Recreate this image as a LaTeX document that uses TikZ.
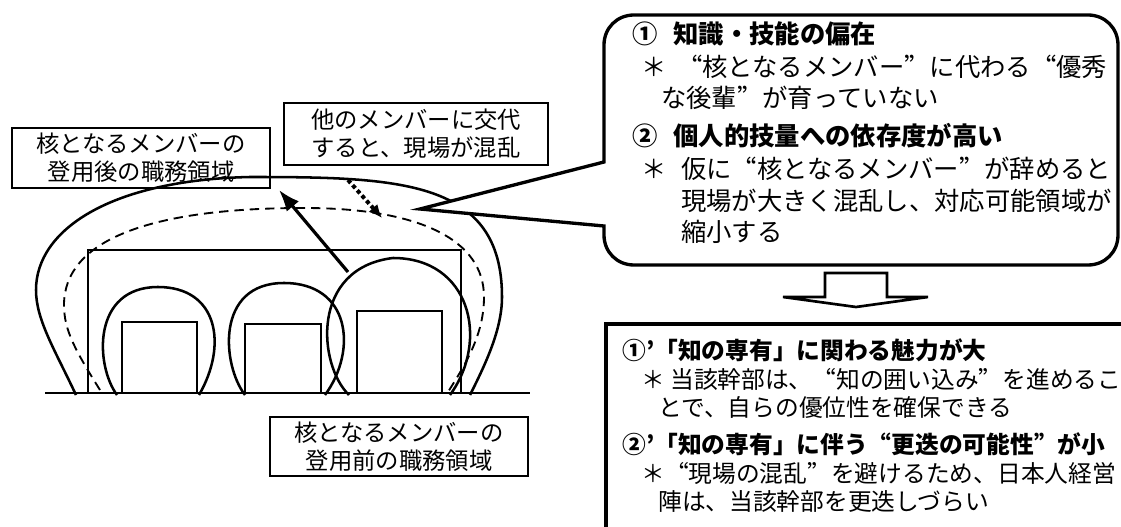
\documentclass[tikz,border=0pt]{standalone}
\usepackage{fontspec}
\newfontfamily\jp{Noto Sans CJK JP}
\newcommand\jqo{{\addfontfeature{CharacterWidth=Full}“}}
\newcommand\jqc{{\addfontfeature{CharacterWidth=Full}”}}
\usetikzlibrary{arrows.meta}
\begin{document}
\begin{tikzpicture}[x=0.75pt,y=-0.75pt,
  curve/.style={line width=1.9pt, line join=round},
  fine/.style={line width=1.3pt},
  lbl/.style={draw, line width=1.3pt, align=center, inner sep=0pt, font=\jp\fontsize{17.5}{21}\selectfont},
  ctxt/.style={anchor=west, inner sep=0pt, font=\jp\fontsize{19}{22}\selectfont},
  cbold/.style={anchor=west, inner sep=0pt, font=\jp\bfseries\fontsize{19}{22}\selectfont},
  btxt/.style={anchor=west, inner sep=0pt, font=\jp\fontsize{17.8}{21}\selectfont},
  bbold/.style={anchor=west, inner sep=0pt, font=\jp\bfseries\fontsize{17.8}{21}\selectfont},
  thick box/.style={line width=2.5pt, line join=miter},
]
\useasboundingbox (0,0) rectangle (1121,527);

% label boxes
\node[lbl, minimum width=193.5pt, minimum height=45pt] (after) at (141,158) {核となるメンバーの\\登用後の職務領域};
\node[lbl, minimum width=198pt, minimum height=46.5pt] (swap) at (416,134) {他のメンバーに交代\\すると、現場が混乱};
\node[lbl, minimum width=193.5pt, minimum height=44.25pt] (before) at (399,446.5) {核となるメンバーの\\登用前の職務領域};

% area rectangles
\draw[fine] (88,250) rectangle (461,393);
\draw[fine] (122,322) rectangle (197,393);
\draw[fine] (245,324) rectangle (321,393);
\draw[fine] (357,311) rectangle (442,393);

% bells
\draw[curve] (117,395) .. controls (95,365) and (92,287) .. (158,287) .. controls (218,287) and (228,345) .. (199,395);
\draw[curve] (245,395) .. controls (222,365) and (215,283) .. (284,283) .. controls (350,283) and (358,350) .. (325,395);
\draw[curve] (349,395) .. controls (318,365) and (310,268) .. (393,258) .. controls (470,258) and (490,340) .. (450,395);

% outer solid region
\draw[curve] (76,395) .. controls (55,350) and (36,320) .. (36,290) .. controls (36,230) and (110,180) .. (250,177) .. controls (400,177) and (502,180) .. (502,297) .. controls (502,330) and (485,365) .. (470,395);
% dashed region
\draw[line width=1.4pt, dash pattern=on 7pt off 4.5pt] (100,390) .. controls (75,350) and (64,330) .. (64,305) .. controls (64,240) and (150,208) .. (304,208) .. controls (420,208) and (484,240) .. (484,297) .. controls (484,335) and (465,365) .. (448,392);

% ground line
\coordinate (g1) at (45,393);
\coordinate (g2) at (530,393);
\draw[line width=1.8pt] (g1) -- (g2);

% arrows
\coordinate (a1s) at (348,272);
\coordinate (a1e) at (279,190);
\draw[line width=2.4pt, -{Latex[length=16pt,width=12pt]}] (a1s) -- (a1e);
\coordinate (a2s) at (348,180);
\coordinate (a2e) at (382,218);
\draw[line width=3pt, dash pattern=on 3pt off 2.2pt, -{Latex[length=10pt,width=9pt]}] (a2s) -- (a2e);

% callout
\draw[thick box, fill=white] (634,15) -- (1088,15) .. controls (1105,15) and (1118,28) .. (1118,45) -- (1118,235) .. controls (1118,252) and (1105,265) .. (1088,265) -- (634,265) .. controls (617,265) and (604,252) .. (604,235) -- (604,226) -- (420,209) -- (604,162) -- (604,45) .. controls (604,28) and (617,15) .. (634,15) -- cycle;

\node[cbold] (c1) at (632,34) {①\hspace{12pt}知識・技能の偏在};
\node[ctxt] (c2) at (641,67) {＊\hspace{8pt}\jqo 核となるメンバー\jqc に代わる\jqo 優秀};
\node[ctxt] (c3) at (661,98) {な後輩\jqc が育っていない};
\node[cbold] (c4) at (632,136) {②\hspace{12pt}個人的技量への依存度が高い};
\node[ctxt] (c5) at (641,169) {＊\hspace{11pt}仮に\jqo 核となるメンバー\jqc が辞めると};
\node[ctxt] (c6) at (681,201) {現場が大きく混乱し、対応可能領域が};
\node[ctxt] (c7) at (681,232) {縮小する};

% block arrow
\draw[line width=2pt, line join=miter] (825,273) -- (887,273) -- (887,297) -- (928,297) -- (856,307) -- (783,297) -- (825,297) -- cycle;

% result box
\draw[thick box] (1130,324) -- (606,324) -- (606,535);
\node[bbold] (r1) at (622,350) {①’「知の専有」に関わる魅力が大};
\node[btxt] (r2) at (641,379) {＊\hspace{4pt}当該幹部は、\jqo 知の囲い込み\jqc を進めるこ};
\node[btxt] (r3) at (658,408) {とで、自らの優位性を確保できる};
\node[bbold] (r4) at (622,444) {②’「知の専有」に伴う\jqo 更迭の可能性\jqc が小};
\node[btxt] (r5) at (641,473) {＊\jqo 現場の混乱\jqc を避けるため、日本人経営};
\node[btxt] (r6) at (658,502) {陣は、当該幹部を更迭しづらい};
\end{tikzpicture}
\end{document}
